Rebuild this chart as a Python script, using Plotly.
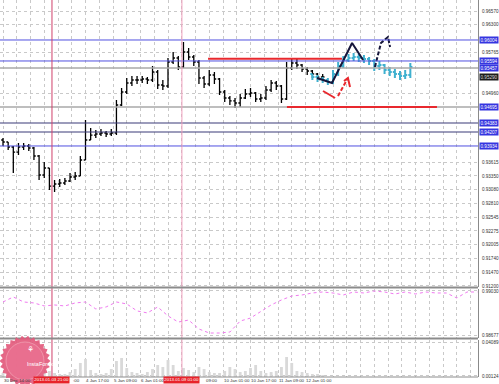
import numpy as np
import plotly.graph_objects as go

# ---------------- data ----------------
HOURS_PER_BAR = 3
LABEL_STEP_H = 16
# time labels; None = label fully hidden by a marker box in the reference
time_labels = ["30 Dec 14:00", None, None, "4 Jan 17:00", "5 Jan 09:00",
               "6 Jan 01:00", None, None, "10 Jan 01:00", "10 Jan 17:00",
               "11 Jan 09:00", "12 Jan 01:00"]
# visible tails of labels partly hidden behind the marker boxes
tail_labels = [":00", "09:00"]
tail_hours = [39.8, 117.0]
marker_labels = ["2013.01.03 21:00", "2013.01.09 01:00"]
marker_hours = [28.5, 104.1]

open_black = [0.94051, 0.94012, 0.93914, 0.93816, 0.93914, 0.93934, 0.93895, 0.93738, 0.93367, 0.93504,
              0.93152, 0.93192, 0.93211, 0.93250, 0.93328, 0.93348, 0.93660, 0.94051, 0.94148, 0.94168,
              0.94188, 0.94168, 0.94188, 0.94734, 0.94988, 0.95164, 0.95223, 0.95223, 0.95242, 0.95223,
              0.95379, 0.95125, 0.95105, 0.95574, 0.95652, 0.95477, 0.95769, 0.95672, 0.95574, 0.95262,
              0.95145, 0.95320, 0.95242, 0.94988, 0.94871, 0.94813, 0.94773, 0.94871, 0.94949, 0.94969,
              0.94852, 0.94871, 0.95027, 0.95164, 0.95105, 0.94852, 0.95457, 0.95555, 0.95516, 0.95437,
              0.95398, 0.95340, 0.95281]
close_black = [0.94012, 0.93914, 0.93816, 0.93914, 0.93934, 0.93895, 0.93738, 0.93367, 0.93504, 0.93152,
               0.93192, 0.93211, 0.93250, 0.93328, 0.93348, 0.93660, 0.94051, 0.94148, 0.94168, 0.94188,
               0.94168, 0.94188, 0.94734, 0.94988, 0.95164, 0.95223, 0.95223, 0.95242, 0.95223, 0.95379,
               0.95125, 0.95105, 0.95574, 0.95652, 0.95477, 0.95769, 0.95672, 0.95574, 0.95262, 0.95145,
               0.95320, 0.95242, 0.94988, 0.94871, 0.94813, 0.94773, 0.94871, 0.94949, 0.94969, 0.94852,
               0.94871, 0.95027, 0.95164, 0.95105, 0.94852, 0.95457, 0.95555, 0.95516, 0.95437, 0.95398,
               0.95340, 0.95281, 0.95281]
high_black = [0.94090, 0.94012, 0.93934, 0.93992, 0.93992, 0.93973, 0.93914, 0.93758, 0.93621, 0.93504,
              0.93270, 0.93289, 0.93309, 0.93406, 0.93426, 0.93738, 0.94441, 0.94285, 0.94246, 0.94266,
              0.94227, 0.94266, 0.94832, 0.95066, 0.95262, 0.95301, 0.95301, 0.95301, 0.95281, 0.95496,
              0.95418, 0.95223, 0.95652, 0.95769, 0.95691, 0.95965, 0.95848, 0.95711, 0.95613, 0.95301,
              0.95418, 0.95379, 0.95262, 0.95027, 0.94910, 0.94871, 0.94949, 0.95047, 0.95066, 0.94988,
              0.94949, 0.95105, 0.95223, 0.95203, 0.95125, 0.95574, 0.95652, 0.95633, 0.95535, 0.95477,
              0.95418, 0.95359, 0.95340]
low_black = [0.93934, 0.93856, 0.93406, 0.93758, 0.93856, 0.93836, 0.93660, 0.93270, 0.93309, 0.93074,
             0.93035, 0.93133, 0.93172, 0.93231, 0.93270, 0.93348, 0.93660, 0.94051, 0.94090, 0.94129,
             0.94109, 0.94129, 0.94148, 0.94715, 0.94949, 0.95105, 0.95145, 0.95164, 0.95145, 0.95184,
             0.95047, 0.95027, 0.95066, 0.95535, 0.95418, 0.95457, 0.95613, 0.95496, 0.95145, 0.95066,
             0.95105, 0.95145, 0.94930, 0.94793, 0.94734, 0.94676, 0.94695, 0.94852, 0.94891, 0.94793,
             0.94793, 0.94832, 0.94988, 0.95027, 0.94773, 0.94832, 0.95418, 0.95437, 0.95379, 0.95320,
             0.95262, 0.95223, 0.95203]

CYAN_FIRST_BAR = 60
open_cyan = [0.95340, 0.95281, 0.95242, 0.95223, 0.95184, 0.95340, 0.95496, 0.95613, 0.95652, 0.95672,
             0.95652, 0.95633, 0.95594, 0.95496, 0.95516, 0.95418, 0.95379, 0.95340, 0.95301, 0.95320]
close_cyan = [0.95281, 0.95242, 0.95223, 0.95184, 0.95340, 0.95496, 0.95613, 0.95652, 0.95672, 0.95652,
              0.95633, 0.95594, 0.95496, 0.95516, 0.95418, 0.95379, 0.95340, 0.95301, 0.95320, 0.95477]
high_cyan = [0.95340, 0.95320, 0.95281, 0.95262, 0.95418, 0.95574, 0.95691, 0.95730, 0.95750, 0.95730,
             0.95711, 0.95672, 0.95633, 0.95594, 0.95535, 0.95477, 0.95437, 0.95398, 0.95418, 0.95555]
low_cyan = [0.95223, 0.95184, 0.95164, 0.95125, 0.95145, 0.95301, 0.95457, 0.95574, 0.95594, 0.95574,
            0.95555, 0.95516, 0.95398, 0.95418, 0.95340, 0.95301, 0.95262, 0.95223, 0.95242, 0.95262]

volume = [0.0047, 0.0058, 0.0070, 0.0047, 0.0035, 0.0035, 0.0047, 0.0058, 0.0047, 0.0070,
          0.0047, 0.0035, 0.0035, 0.0058, 0.0093, 0.0164, 0.0210, 0.0082, 0.0047, 0.0035,
          0.0047, 0.0093, 0.0187, 0.0222, 0.0105, 0.0058, 0.0047, 0.0035, 0.0058, 0.0093,
          0.0140, 0.0117, 0.0199, 0.0140, 0.0070, 0.0105, 0.0082, 0.0058, 0.0117, 0.0093,
          0.0058, 0.0047, 0.0047, 0.0070, 0.0117, 0.0093, 0.0058, 0.0070, 0.0105, 0.0140,
          0.0070, 0.0047, 0.0058, 0.0070, 0.0117, 0.0234, 0.0164, 0.0070, 0.0058, 0.0047,
          0.0035, 0.0035, 0.0023]

IND_HOURS_STEP = 6
indicator = [0.98942, 0.98982, 0.98942, 0.98934, 0.98910, 0.98918, 0.98910, 0.98934, 0.98942, 0.98886,
             0.98902, 0.98942, 0.98926, 0.98870, 0.98854, 0.98902, 0.98830, 0.98781, 0.98797, 0.98725,
             0.98693, 0.98693, 0.98701, 0.98789, 0.98813, 0.98862, 0.98918, 0.98958, 0.98990, 0.98998,
             0.99014, 0.99022, 0.99014, 0.98998, 0.99022, 0.99014, 0.99030, 0.99022, 0.99006, 0.99022,
             0.99006, 0.99022, 0.99014, 0.99014, 0.98974, 0.99022, 0.99022]

# price ticks visible on the right scale (others are covered by level boxes)
price_ticks = [0.96570, 0.96300, 0.95765, 0.94960, 0.93615, 0.93350, 0.93080, 0.92810,
               0.92545, 0.92275, 0.92005, 0.91740, 0.91470, 0.91200]
ind_ticks = [0.99030, 0.98677]
vol_ticks = [0.04089, 0.00124]

# horizontal levels (price)
level_blue = [0.96004, 0.95594, 0.93934]
level_dark = [0.94383, 0.94207]
level_gray = [0.95457, 0.94695]
# red partial levels: price, start hour, end hour
red_level_price = [0.95640, 0.94695]
red_level_start = [119.3, 165.2]
red_level_end = [197.2, 252.5]
label_blue = [0.96004, 0.95594, 0.95457, 0.94695, 0.94383, 0.94207, 0.93934]
current_price = 0.95290

# drawn wave / arrows (hour, price)
wave_h = [182.7, 191.4, 203.1, 209.5]
wave_p = [0.95262, 0.95164, 0.95945, 0.95613]
wave2_h = [216.4, 219.9, 224.0, 225.2]
wave2_p = [0.95477, 0.95945, 0.96062, 0.95867]
red1_h = [186.2, 193.2]
red1_p = [0.95008, 0.94871]
red2_h = [194.9, 200.7]
red2_p = [0.94910, 0.95262]
red3_h = [198.4, 200.7, 201.9]
red3_p = [0.95203, 0.95262, 0.95086]

# ---------------- layout geometry ----------------
W, H = 499, 384
ML, MR, MT, MB = 0, 21, 0, 7
PH = H - MT - MB
PX_PER_H = 27.5 / 16.0
X0_PX = 3.0
xr = [-X0_PX / PX_PER_H, (W - MR - X0_PX) / PX_PER_H]


def py(pix):
    return (PH - pix) / PH


FONT = "Liberation Sans"
FS = 4.6
FS_T = 4.4
GRID = "#c9c9c9"

bar_h = [HOURS_PER_BAR * i for i in range(len(close_black))]
cyan_h = [HOURS_PER_BAR * (CYAN_FIRST_BAR + i) for i in range(len(close_cyan))]
ind_h = [IND_HOURS_STEP * j for j in range(len(indicator))]

fig = go.Figure()

fig.add_trace(go.Bar(x=bar_h, y=volume, marker=dict(color="#d9d9d9", line=dict(width=0)),
                     xaxis="x3", yaxis="y3", showlegend=False, hoverinfo="skip"))

fig.add_trace(go.Ohlc(x=bar_h, open=open_black, high=high_black, low=low_black, close=close_black,
                      increasing=dict(line=dict(color="#000000", width=1.3)),
                      decreasing=dict(line=dict(color="#000000", width=1.3)),
                      tickwidth=0.35, xaxis="x", yaxis="y", hoverinfo="skip", showlegend=False))
fig.add_trace(go.Ohlc(x=cyan_h, open=open_cyan, high=high_cyan, low=low_cyan, close=close_cyan,
                      increasing=dict(line=dict(color="#3fb0cf", width=2)),
                      decreasing=dict(line=dict(color="#3fb0cf", width=2)),
                      tickwidth=0.4, xaxis="x", yaxis="y", hoverinfo="skip", showlegend=False))

fig.add_trace(go.Scatter(x=wave_h, y=wave_p, mode="lines", line=dict(color="#15153a", width=2),
                         xaxis="x", yaxis="y", showlegend=False, hoverinfo="skip"))
fig.add_trace(go.Scatter(x=wave2_h, y=wave2_p, mode="lines", line=dict(color="#15153a", width=2, dash="4px,2px"),
                         xaxis="x", yaxis="y", showlegend=False, hoverinfo="skip"))
fig.add_trace(go.Scatter(x=red1_h, y=red1_p, mode="lines", line=dict(color="#e8282e", width=2),
                         xaxis="x", yaxis="y", showlegend=False, hoverinfo="skip"))
fig.add_trace(go.Scatter(x=red2_h, y=red2_p, mode="lines", line=dict(color="#e8282e", width=2, dash="4px,2px"),
                         xaxis="x", yaxis="y", showlegend=False, hoverinfo="skip"))
fig.add_trace(go.Scatter(x=red3_h, y=red3_p, mode="lines", line=dict(color="#e8282e", width=2),
                         xaxis="x", yaxis="y", showlegend=False, hoverinfo="skip"))

fig.add_trace(go.Scatter(x=ind_h, y=indicator, mode="lines", line=dict(color="#f07af0", width=1, dash="dot"),
                         xaxis="x2", yaxis="y2", showlegend=False, hoverinfo="skip"))

main_dom = [py(287), 1.0]
ind_dom = [py(338), py(289)]
vol_dom = [0.0, py(340)]

xcommon = dict(range=xr, showgrid=True, gridcolor=GRID, griddash="dot", gridwidth=1, dtick=8, tick0=0,
               showticklabels=False, ticks="", zeroline=False, showline=False, domain=[0, 1])
ycommon = dict(side="right", showgrid=True, gridcolor=GRID, griddash="dot", gridwidth=1, zeroline=False,
               ticks="", showline=True, linecolor="#8a8a8a", linewidth=1,
               tickfont=dict(family=FONT, size=FS, color="#333333"), ticklabelstandoff=2)

fig.update_layout(
    width=W, height=H, margin=dict(l=ML, r=MR, t=MT, b=MB),
    paper_bgcolor="#ffffff", plot_bgcolor="#ffffff", showlegend=False, bargap=0.45,
    xaxis=dict(**xcommon, anchor="y", rangeslider=dict(visible=False)),
    xaxis2=dict(**xcommon, anchor="y2", matches="x"),
    xaxis3=dict(**xcommon, anchor="y3", matches="x"),
    yaxis=dict(**ycommon, anchor="x", domain=main_dom, range=[0.91180, 0.96785],
               tickvals=price_ticks, ticktext=[f"{v:.5f}" for v in price_ticks]),
    yaxis2=dict(**ycommon, anchor="x2", domain=ind_dom, range=[0.98653, 0.99046],
                tickvals=ind_ticks, ticktext=[f"{v:.5f}" for v in ind_ticks]),
    yaxis3=dict(**ycommon, anchor="x3", domain=vol_dom, range=[0, 0.04323],
                tickvals=vol_ticks, ticktext=[f"{v:.5f}" for v in vol_ticks]),
)

shapes = []
for p in level_gray:
    shapes.append(dict(type="line", xref="x domain", yref="y", x0=0, x1=1, y0=p, y1=p,
                       line=dict(color="#a8a8a8", width=1.3)))
for p in level_blue:
    shapes.append(dict(type="line", xref="x domain", yref="y", x0=0, x1=1, y0=p, y1=p,
                       line=dict(color="#5050e0", width=1)))
for p in level_dark:
    shapes.append(dict(type="line", xref="x domain", yref="y", x0=0, x1=1, y0=p, y1=p,
                       line=dict(color="#3a3a78", width=1.2)))
for p, a, b in zip(red_level_price, red_level_start, red_level_end):
    shapes.append(dict(type="line", xref="x", yref="y", x0=a, x1=b, y0=p, y1=p,
                       line=dict(color="#e8282e", width=2)))
vcolors = ["#d0406a", "#f0a0bd"]
for h, c in zip(marker_hours, vcolors):
    shapes.append(dict(type="line", xref="x", yref="paper", x0=h, x1=h, y0=0, y1=1,
                       line=dict(color=c, width=1)))
# pane separators and bottom border
for pix in (287.5, 338.5):
    shapes.append(dict(type="line", xref="paper", yref="paper", x0=0, x1=1, y0=py(pix), y1=py(pix),
                       line=dict(color="#8c8c8c", width=2)))
shapes.append(dict(type="line", xref="paper", yref="paper", x0=0, x1=1, y0=0, y1=0,
                   line=dict(color="#8c8c8c", width=1)))

# logo badge (decoration)
cx, cy = 25.0, 361.0
n = 26
pts = []
for k in range(2 * n):
    r = 25.5 if k % 2 == 0 else 22.5
    t = np.pi * k / n
    pts.append(((cx + r * np.cos(t)) / (W - MR), py(cy + r * np.sin(t))))
path = "M " + " L ".join(f"{x:.4f},{y:.4f}" for x, y in pts) + " Z"
shapes.append(dict(type="path", xref="paper", yref="paper", path=path,
                   fillcolor="#e2587a", line=dict(width=0), opacity=0.9))
shapes.append(dict(type="circle", xref="paper", yref="paper",
                   x0=(cx - 19) / (W - MR), x1=(cx + 19) / (W - MR), y0=py(cy + 19), y1=py(cy - 19),
                   fillcolor="#ea7090", line=dict(color="#f6b8c6", width=0.6), opacity=0.9))
fig.update_layout(shapes=shapes)

ann = []
# time labels
for k, lab in enumerate(time_labels):
    if lab is None:
        continue
    ann.append(dict(x=k * LABEL_STEP_H, xref="x", y=py(380.5), yref="paper", text=lab, showarrow=False,
                    xanchor="left", yanchor="middle", xshift=-1.5,
                    font=dict(family=FONT, size=FS_T, color="#333333")))
for h, lab in zip(tail_hours, tail_labels):
    ann.append(dict(x=h, xref="x", y=py(380.5), yref="paper", text=lab, showarrow=False,
                    xanchor="left", yanchor="middle", font=dict(family=FONT, size=FS_T, color="#333333")))
for h, lab in zip(marker_hours, marker_labels):
    ann.append(dict(x=h, xref="x", y=py(380.5), yref="paper", text=lab, showarrow=False,
                    xanchor="center", yanchor="middle", bgcolor="#e8232a", borderpad=0.3,
                    font=dict(family=FONT, size=FS_T, color="#ffffff")))
# right axis boxes
for p in label_blue:
    ann.append(dict(x=1, xref="paper", y=p, yref="y", text=f"{p:.5f}", showarrow=False, xanchor="left",
                    yanchor="middle", xshift=1, bgcolor="#3535e0", borderpad=0.5,
                    font=dict(family=FONT, size=FS, color="#ffffff")))
ann.append(dict(x=1, xref="paper", y=current_price, yref="y", text=f"{current_price:.5f}", showarrow=False,
                xanchor="left", yanchor="middle", xshift=1, bgcolor="#1c1c1c", borderpad=0.5,
                font=dict(family=FONT, size=FS, color="#d8d8d8")))
# logo text
ann.append(dict(x=cx / (W - MR), xref="paper", y=py(369), yref="paper", text="InstaForex", showarrow=False,
                font=dict(family=FONT, size=5.5, color="#ffffff")))
ann.append(dict(x=cx / (W - MR), xref="paper", y=py(356), yref="paper", text="\u2698", showarrow=False,
                font=dict(family="DejaVu Sans", size=8, color="#ffffff")))
fig.update_layout(annotations=ann)

fig.write_html("out.html")
